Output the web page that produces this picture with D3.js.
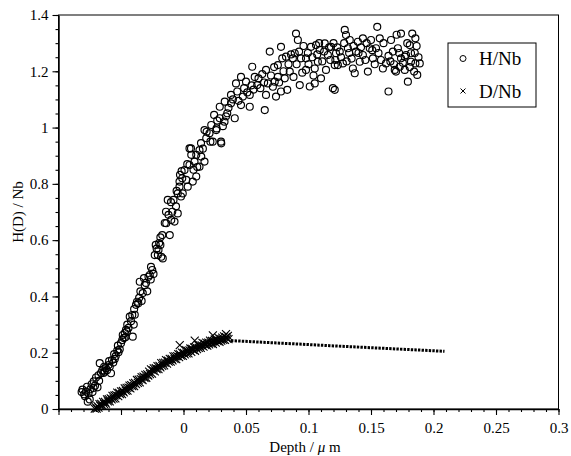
<!DOCTYPE html>
<html>
<head>
<meta charset="utf-8">
<script src="https://cdn.jsdelivr.net/npm/d3@7"></script>
<style>
  html, body { margin: 0; padding: 0; background: #fff; }
  svg, svg text { font-family: 'Liberation Serif', 'Times New Roman', Times, serif; }
</style>
</head>
<body>
<svg id="chart" width="571" height="456"></svg>
<script>
// H/Nb ratio vs depth (open circles) [depth um, ratio]
const hPoints = [
  [-0.0815,0.060],[-0.0808,0.069],[-0.0795,0.052],[-0.0788,0.045],[-0.0780,0.062],[-0.0772,0.079],
  [-0.0766,0.026],[-0.0760,0.055],[-0.0750,0.034],[-0.0745,0.070],[-0.0735,0.088],[-0.0728,0.060],
  [-0.0720,0.075],[-0.0718,0.098],[-0.0708,0.083],[-0.0700,0.112],[-0.0688,0.077],[-0.0680,0.120],
  [-0.0675,0.100],[-0.0670,0.163],[-0.0660,0.128],[-0.0650,0.137],[-0.0640,0.128],[-0.0635,0.150],
  [-0.0630,0.133],[-0.0622,0.145],[-0.0612,0.138],[-0.0600,0.156],[-0.0595,0.170],[-0.0590,0.150],
  [-0.0580,0.127],[-0.0572,0.174],[-0.0562,0.165],[-0.0555,0.195],[-0.0550,0.178],[-0.0542,0.188],
  [-0.0530,0.208],[-0.0525,0.225],[-0.0520,0.202],[-0.0510,0.212],[-0.0500,0.234],[-0.0490,0.245],
  [-0.0486,0.263],[-0.0478,0.252],[-0.0470,0.270],[-0.0465,0.255],[-0.0460,0.281],[-0.0452,0.276],
  [-0.0450,0.300],[-0.0440,0.288],[-0.0430,0.328],[-0.0420,0.312],[-0.0410,0.334],[-0.0406,0.257],
  [-0.0398,0.300],[-0.0395,0.355],[-0.0390,0.335],[-0.0380,0.370],[-0.0372,0.381],[-0.0362,0.376],
  [-0.0355,0.395],[-0.0350,0.452],[-0.0345,0.418],[-0.0335,0.384],[-0.0326,0.412],[-0.0316,0.465],
  [-0.0310,0.440],[-0.0300,0.448],[-0.0290,0.418],[-0.0280,0.470],[-0.0270,0.476],[-0.0262,0.460],
  [-0.0260,0.505],[-0.0250,0.494],[-0.0240,0.480],[-0.0230,0.547],[-0.0222,0.583],[-0.0215,0.570],
  [-0.0205,0.547],[-0.0200,0.565],[-0.0195,0.590],[-0.0185,0.583],[-0.0185,0.610],[-0.0178,0.541],
  [-0.0170,0.618],[-0.0166,0.535],[-0.0150,0.661],[-0.0140,0.701],[-0.0138,0.660],[-0.0126,0.743],
  [-0.0120,0.690],[-0.0110,0.618],[-0.0100,0.735],[-0.0098,0.672],[-0.0090,0.701],[-0.0080,0.743],
  [-0.0072,0.666],[-0.0060,0.720],[-0.0055,0.775],[-0.0046,0.695],[-0.0046,0.766],[-0.0032,0.790],
  [-0.0032,0.808],[-0.0028,0.832],[-0.0020,0.755],[-0.0015,0.845],[-0.0010,0.820],[-0.0006,0.766],
  [0.0008,0.849],[0.0022,0.814],[0.0030,0.870],[0.0034,0.790],[0.0048,0.867],[0.0048,0.926],
  [0.0060,0.926],[0.0062,0.903],[0.0074,0.808],[0.0080,0.850],[0.0088,0.879],[0.0102,0.826],
  [0.0102,0.903],[0.0110,0.860],[0.0128,0.920],[0.0128,0.861],[0.0140,0.945],[0.0142,0.897],
  [0.0155,0.925],[0.0168,0.879],[0.0168,0.991],[0.0182,0.962],[0.0185,0.985],[0.0208,0.980],
  [0.0215,0.950],[0.0222,1.009],[0.0234,0.950],[0.0245,1.045],[0.0262,0.991],[0.0265,0.997],
  [0.0270,1.025],[0.0290,1.033],[0.0290,1.074],[0.0300,0.950],[0.0302,0.944],[0.0315,1.005],
  [0.0328,1.021],[0.0330,1.092],[0.0340,1.040],[0.0350,1.051],[0.0360,1.070],[0.0380,1.086],
  [0.0380,1.116],[0.0395,1.100],[0.0410,1.033],[0.0420,1.157],[0.0430,1.128],[0.0440,1.095],
  [0.0460,1.080],[0.0460,1.180],[0.0475,1.110],[0.0485,1.140],[0.0500,1.163],[0.0510,1.125],
  [0.0530,1.116],[0.0530,1.074],[0.0545,1.150],[0.0550,1.216],[0.0560,1.135],[0.0570,1.180],
  [0.0590,1.151],[0.0600,1.175],[0.0615,1.140],[0.0630,1.190],[0.0645,1.160],[0.0650,1.062],
  [0.0660,1.116],[0.0660,1.205],[0.0675,1.157],[0.0690,1.270],[0.0700,1.185],[0.0715,1.145],
  [0.0725,1.215],[0.0730,1.163],[0.0740,1.110],[0.0755,1.222],[0.0755,1.180],[0.0765,1.160],
  [0.0780,1.287],[0.0780,1.128],[0.0790,1.246],[0.0800,1.200],[0.0810,1.175],[0.0820,1.252],
  [0.0830,1.134],[0.0840,1.225],[0.0850,1.199],[0.0860,1.260],[0.0875,1.246],[0.0880,1.180],
  [0.0890,1.264],[0.0900,1.334],[0.0905,1.225],[0.0915,1.311],[0.0925,1.270],[0.0930,1.151],
  [0.0940,1.246],[0.0950,1.195],[0.0960,1.290],[0.0980,1.205],[0.0980,1.246],[0.0995,1.265],
  [0.1000,1.225],[0.1010,1.146],[0.1020,1.287],[0.1030,1.250],[0.1040,1.185],[0.1050,1.157],
  [0.1050,1.210],[0.1060,1.293],[0.1070,1.260],[0.1075,1.234],[0.1085,1.300],[0.1090,1.276],
  [0.1100,1.175],[0.1110,1.235],[0.1125,1.270],[0.1130,1.299],[0.1140,1.205],[0.1155,1.258],
  [0.1165,1.285],[0.1175,1.240],[0.1180,1.287],[0.1195,1.140],[0.1200,1.300],[0.1210,1.222],
  [0.1210,1.134],[0.1215,1.240],[0.1220,1.264],[0.1230,1.285],[0.1235,1.222],[0.1250,1.270],
  [0.1260,1.250],[0.1275,1.228],[0.1285,1.300],[0.1290,1.347],[0.1300,1.329],[0.1305,1.235],
  [0.1315,1.282],[0.1325,1.265],[0.1330,1.311],[0.1345,1.245],[0.1355,1.210],[0.1360,1.290],
  [0.1370,1.193],[0.1380,1.270],[0.1395,1.305],[0.1400,1.265],[0.1410,1.234],[0.1420,1.285],
  [0.1435,1.317],[0.1435,1.258],[0.1455,1.240],[0.1465,1.300],[0.1475,1.199],[0.1490,1.282],
  [0.1500,1.311],[0.1510,1.275],[0.1515,1.246],[0.1530,1.225],[0.1540,1.282],[0.1550,1.358],
  [0.1560,1.265],[0.1570,1.317],[0.1580,1.240],[0.1595,1.210],[0.1600,1.300],[0.1620,1.228],
  [0.1640,1.128],[0.1640,1.255],[0.1655,1.235],[0.1660,1.311],[0.1675,1.270],[0.1685,1.225],
  [0.1690,1.205],[0.1700,1.199],[0.1705,1.330],[0.1715,1.282],[0.1725,1.265],[0.1730,1.216],
  [0.1740,1.334],[0.1740,1.246],[0.1755,1.230],[0.1770,1.252],[0.1770,1.205],[0.1780,1.258],
  [0.1790,1.300],[0.1795,1.163],[0.1810,1.293],[0.1810,1.215],[0.1820,1.264],[0.1820,1.234],
  [0.1830,1.334],[0.1845,1.199],[0.1850,1.265],[0.1855,1.317],[0.1855,1.228],[0.1865,1.290],
  [0.1870,1.187],[0.1880,1.250],[0.1890,1.228]
];

// D/Nb ratio vs depth (crosses) [depth um, ratio]
const dPoints = [
  [-0.0710,0.001],[-0.0700,0.006],[-0.0695,0.001],[-0.0688,0.010],[-0.0680,0.005],[-0.0672,0.017],
  [-0.0665,0.011],[-0.0658,0.018],[-0.0650,0.012],[-0.0643,0.025],[-0.0636,0.018],[-0.0628,0.025],
  [-0.0620,0.019],[-0.0612,0.034],[-0.0605,0.027],[-0.0598,0.035],[-0.0590,0.027],[-0.0582,0.038],
  [-0.0575,0.034],[-0.0568,0.047],[-0.0560,0.037],[-0.0552,0.048],[-0.0545,0.038],[-0.0538,0.049],
  [-0.0530,0.058],[-0.0522,0.046],[-0.0515,0.057],[-0.0508,0.053],[-0.0500,0.063],[-0.0492,0.053],
  [-0.0485,0.064],[-0.0478,0.059],[-0.0470,0.073],[-0.0462,0.065],[-0.0455,0.075],[-0.0448,0.065],
  [-0.0440,0.076],[-0.0432,0.083],[-0.0425,0.073],[-0.0418,0.085],[-0.0410,0.081],[-0.0402,0.091],
  [-0.0395,0.081],[-0.0388,0.093],[-0.0380,0.088],[-0.0372,0.103],[-0.0365,0.093],[-0.0358,0.104],
  [-0.0350,0.095],[-0.0342,0.106],[-0.0335,0.113],[-0.0328,0.103],[-0.0320,0.115],[-0.0312,0.111],
  [-0.0305,0.121],[-0.0298,0.111],[-0.0290,0.123],[-0.0282,0.119],[-0.0275,0.133],[-0.0268,0.124],
  [-0.0260,0.141],[-0.0252,0.126],[-0.0245,0.137],[-0.0238,0.144],[-0.0230,0.134],[-0.0222,0.145],
  [-0.0215,0.142],[-0.0208,0.152],[-0.0200,0.142],[-0.0192,0.153],[-0.0185,0.148],[-0.0178,0.163],
  [-0.0170,0.153],[-0.0162,0.164],[-0.0155,0.155],[-0.0148,0.165],[-0.0140,0.174],[-0.0132,0.161],
  [-0.0125,0.172],[-0.0118,0.168],[-0.0110,0.178],[-0.0102,0.168],[-0.0095,0.178],[-0.0088,0.173],
  [-0.0080,0.187],[-0.0072,0.178],[-0.0065,0.187],[-0.0058,0.177],[-0.0050,0.188],[-0.0042,0.195],
  [-0.0035,0.184],[-0.0030,0.227],[-0.0028,0.194],[-0.0020,0.190],[-0.0012,0.200],[-0.0005,0.189],
  [0.0002,0.199],[0.0010,0.194],[0.0018,0.209],[0.0025,0.198],[0.0032,0.207],[0.0040,0.198],
  [0.0048,0.208],[0.0055,0.215],[0.0062,0.203],[0.0070,0.214],[0.0078,0.210],[0.0085,0.219],
  [0.0090,0.243],[0.0092,0.207],[0.0100,0.219],[0.0108,0.213],[0.0115,0.228],[0.0122,0.217],
  [0.0130,0.226],[0.0138,0.217],[0.0145,0.226],[0.0152,0.235],[0.0160,0.222],[0.0168,0.232],
  [0.0175,0.227],[0.0182,0.236],[0.0190,0.225],[0.0198,0.236],[0.0205,0.230],[0.0212,0.243],
  [0.0220,0.233],[0.0228,0.242],[0.0235,0.262],[0.0235,0.231],[0.0242,0.241],[0.0250,0.247],
  [0.0258,0.236],[0.0265,0.246],[0.0272,0.241],[0.0280,0.253],[0.0288,0.239],[0.0295,0.249],
  [0.0302,0.243],[0.0310,0.254],[0.0318,0.246],[0.0325,0.258],[0.0332,0.246],[0.0340,0.266],
  [0.0340,0.255],[0.0348,0.250],[0.0355,0.260],[0.0360,0.248]
];

// D/Nb dotted continuation [depth um, ratio]
const dTail = [[0.038,0.243],[0.117,0.225],[0.2088,0.205]];

const xTicks = [-0.1,-0.05,0,0.05,0.1,0.15,0.2,0.25,0.3];
const xTickLabels = ['','','0','0.05','0.1','0.15','0.2','0.25','0.3'];
const yTicks = [0,0.2,0.4,0.6,0.8,1,1.2,1.4];
const yTickLabels = ['0','0.2','0.4','0.6','0.8','1','1.2','1.4'];
const legendLabels = ['H/Nb','D/Nb'];

const fontFamily = "'Liberation Serif', 'Times New Roman', Times, serif";
const plot = { left: 58.5, right: 558.5, top: 15, bottom: 409 };

const svg = d3.select('#chart');

const xScale = d3.scaleLinear().domain([-0.1, 0.3]).range([plot.left, plot.right]);
const yScale = d3.scaleLinear().domain([0, 1.4]).range([plot.bottom, plot.top]);

// frame (top + right thin)
svg.append('rect')
  .attr('x', plot.left).attr('y', plot.top)
  .attr('width', plot.right - plot.left).attr('height', plot.bottom - plot.top)
  .attr('fill', 'none').attr('stroke', '#000').attr('stroke-width', 1);

// minor ticks
const xMinor = d3.range(-0.1, 0.3001, 0.01).map(v => +v.toFixed(3));
const yMinor = d3.range(0, 1.4001, 0.05).map(v => +v.toFixed(3));

svg.append('g')
  .attr('transform', `translate(0, ${plot.bottom})`)
  .call(d3.axisBottom(xScale).tickValues(xMinor).tickSize(3).tickFormat(''))
  .call(g => g.select('.domain').remove());

svg.append('g')
  .attr('transform', `translate(${plot.left}, 0)`)
  .call(d3.axisLeft(yScale).tickValues(yMinor).tickSize(3).tickFormat(''))
  .call(g => g.select('.domain').remove());

// major axes
svg.append('g')
  .attr('transform', `translate(0, ${plot.bottom})`)
  .call(d3.axisBottom(xScale).tickValues(xTicks).tickSize(6).tickPadding(7).tickSizeOuter(0)
    .tickFormat((d, i) => xTickLabels[i]));

svg.append('g')
  .attr('transform', `translate(${plot.left}, 0)`)
  .call(d3.axisLeft(yScale).tickValues(yTicks).tickSize(6).tickPadding(4).tickSizeOuter(0)
    .tickFormat((d, i) => yTickLabels[i]));

svg.selectAll('g').attr('font-family', fontFamily);
svg.selectAll('.tick text')
  .attr('font-family', fontFamily)
  .attr('font-size', 15)
  .attr('fill', '#000');
svg.selectAll('.domain').attr('stroke-width', 1.5);
svg.selectAll('.tick line').attr('stroke-width', 1.1);

// axis titles
const xLabel = svg.append('text')
  .attr('x', 305).attr('y', 452)
  .attr('text-anchor', 'middle')
  .attr('font-family', fontFamily)
  .attr('font-size', 15);
xLabel.append('tspan').text('Depth / ');
xLabel.append('tspan').attr('font-style', 'italic').text('μ');
xLabel.append('tspan').text(' m');

svg.append('text')
  .attr('transform', `translate(23, ${(plot.top + plot.bottom) / 2}) rotate(-90)`)
  .attr('text-anchor', 'middle')
  .attr('font-family', fontFamily)
  .attr('font-size', 15)
  .text('H(D) / Nb');

// H circles
svg.append('g')
  .selectAll('circle')
  .data(hPoints)
  .join('circle')
  .attr('cx', d => xScale(d[0]))
  .attr('cy', d => yScale(d[1]))
  .attr('r', 3.5)
  .attr('fill', 'none')
  .attr('stroke', '#000')
  .attr('stroke-width', 1.15);

// D crosses
const cross = 'M-4,-4L4,4M-4,4L4,-4';
svg.append('g')
  .selectAll('path')
  .data(dPoints)
  .join('path')
  .attr('transform', d => `translate(${xScale(d[0])}, ${yScale(d[1])})`)
  .attr('d', cross)
  .attr('fill', 'none')
  .attr('stroke', '#000')
  .attr('stroke-width', 1.1);

// D dotted tail
svg.append('path')
  .datum(dTail)
  .attr('d', d3.line().x(d => xScale(d[0])).y(d => yScale(d[1])))
  .attr('fill', 'none')
  .attr('stroke', '#000')
  .attr('stroke-width', 3)
  .attr('stroke-dasharray', '2.4,1.2');

// legend
const legend = svg.append('g').attr('transform', 'translate(448, 43)');
legend.append('rect')
  .attr('width', 88).attr('height', 64)
  .attr('fill', '#fff').attr('stroke', '#000').attr('stroke-width', 1);
legend.append('circle')
  .attr('cx', 15).attr('cy', 15.5).attr('r', 3)
  .attr('fill', 'none').attr('stroke', '#000').attr('stroke-width', 1);
legend.append('path')
  .attr('transform', 'translate(15, 48)')
  .attr('d', 'M-2.5,-2.5L2.5,2.5M-2.5,2.5L2.5,-2.5')
  .attr('stroke', '#000').attr('stroke-width', 1);
legend.selectAll('text.lbl')
  .data(legendLabels)
  .join('text')
  .attr('class', 'lbl')
  .attr('x', 31)
  .attr('y', (d, i) => 22 + i * 33)
  .attr('font-family', fontFamily)
  .attr('font-size', 19)
  .text(d => d);
</script>
</body>
</html>
